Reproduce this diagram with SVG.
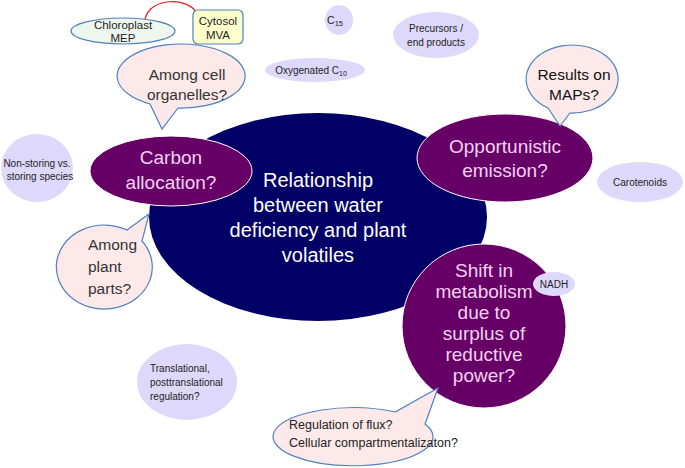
<svg xmlns="http://www.w3.org/2000/svg" width="685" height="468" viewBox="0 0 685 468">
<style>
text{font-family:"Liberation Sans","Noto Sans",Arial,sans-serif}
.big{fill:#ffffff;font-size:20px;text-anchor:middle}
.pq{fill:#f6d2f2;font-size:19px;text-anchor:middle}
.bub{fill:#fde9e9;stroke:#4f81bd;stroke-width:1.2}
.bt{fill:#333333;font-size:15.5px}
.lav{fill:#ded9fa}
.st{fill:#222;font-size:10px;text-anchor:middle}
.purp{fill:#660066;stroke:#ffffff;stroke-width:1}
</style>
<rect width="685" height="468" fill="#ffffff"/>
<g id="connectors">
<path d="M145 19 C150 -3 188 -3 197 13" fill="none" stroke="#e02020" stroke-width="1.2"/>
</g>
<g id="main">
<ellipse cx="318" cy="217" rx="169" ry="104" fill="#000066"/>
<text class="big" x="318" y="187">Relationship</text>
<text class="big" x="318" y="212">between water</text>
<text class="big" x="318" y="237">deficiency and plant</text>
<text class="big" x="318" y="262">volatiles</text>
</g>
<g id="carbon">
<ellipse class="purp" cx="171" cy="171" rx="81" ry="35"/>
<text class="pq" x="171" y="164">Carbon</text>
<text class="pq" x="171" y="189">allocation?</text>
</g>
<g id="opportunistic">
<ellipse class="purp" cx="505" cy="158" rx="88" ry="44"/>
<text class="pq" x="505" y="153">Opportunistic</text>
<text class="pq" x="505" y="177">emission?</text>
</g>
<g id="shift">
<circle class="purp" cx="484" cy="326" r="82"/>
<text class="pq" x="484" y="277">Shift in</text>
<text class="pq" x="484" y="298">metabolism</text>
<text class="pq" x="484" y="319">due to</text>
<text class="pq" x="484" y="340">surplus of</text>
<text class="pq" x="484" y="361">reductive</text>
<text class="pq" x="484" y="382">power?</text>
</g>
<g id="chloroplast">
<ellipse cx="123" cy="31" rx="52" ry="13" fill="#eef7ee" stroke="#4f81bd" stroke-width="1.2"/>
<text x="123" y="29" font-size="11.5" text-anchor="middle" fill="#222">Chloroplast</text>
<text x="123" y="42" font-size="11.5" text-anchor="middle" fill="#222">MEP</text>
</g>
<g id="cytosol">
<rect x="193" y="10" width="50" height="34" rx="5" fill="#ffffcc" stroke="#4f81bd" stroke-width="1.2"/>
<text x="218" y="25" font-size="11.5" text-anchor="middle" fill="#222">Cytosol</text>
<text x="218" y="39" font-size="11.5" text-anchor="middle" fill="#222">MVA</text>
</g>
<g id="organelles">
<path class="bub" d="M150 104 A64 32 0 1 1 178 108 L162 129 Z"/>
<text class="bt" x="187" y="80" text-anchor="middle">Among cell</text>
<text class="bt" x="187" y="100" text-anchor="middle">organelles?</text>
</g>
<g id="c15">
<ellipse class="lav" cx="339" cy="20" rx="14" ry="15"/>
<text x="335" y="24" font-size="10.5" text-anchor="middle" fill="#222">C<tspan font-size="7.5" dy="2">15</tspan></text>
</g>
<g id="precursors">
<ellipse class="lav" cx="436" cy="35" rx="43" ry="23"/>
<text class="st" x="436" y="32" font-size="10.5">Precursors /</text>
<text class="st" x="436" y="46">end products</text>
</g>
<g id="oxygenated">
<ellipse class="lav" cx="315" cy="70" rx="50" ry="12"/>
<text x="311" y="74" font-size="10" text-anchor="middle" fill="#222">Oxygenated C<tspan font-size="7" dy="2">10</tspan></text>
</g>
<g id="maps">
<path class="bub" d="M548 108 A46 34 0 1 1 570 113 L560 126 Z"/>
<text x="574" y="80" font-size="15.5" text-anchor="middle" fill="#111">Results on</text>
<text x="574" y="100" font-size="15.5" text-anchor="middle" fill="#111">MAPs?</text>
</g>
<g id="carotenoids">
<ellipse class="lav" cx="640" cy="182" rx="43" ry="20"/>
<text class="st" x="640" y="186" font-size="9">Carotenoids</text>
</g>
<g id="nonstoring">
<ellipse class="lav" cx="37" cy="168" rx="36" ry="34"/>
<text class="st" x="37" y="167" font-size="9.5">Non-storing vs.</text>
<text class="st" x="40" y="180" font-size="9.5">storing species</text>
</g>
<g id="plantparts">
<path class="bub" d="M127 230 A48 42 0 1 0 142 241 L149 214 Z"/>
<text class="bt" x="88" y="250">Among</text>
<text class="bt" x="88" y="272">plant</text>
<text class="bt" x="88" y="294">parts?</text>
</g>
<g id="nadh">
<ellipse class="lav" cx="554" cy="284" rx="21" ry="12"/>
<text class="st" x="554" y="288" font-size="8.5">NADH</text>
</g>
<g id="translational">
<ellipse class="lav" cx="187" cy="382" rx="50" ry="38"/>
<text x="150" y="372" font-size="10" fill="#222">Translational,</text>
<text x="150" y="386" font-size="10" fill="#222">posttranslational</text>
<text x="150" y="400" font-size="10" fill="#222">regulation?</text>
</g>
<g id="regulation">
<path class="bub" d="M395 412 A80 29 0 1 0 425 424 L438 388 Z"/>
<text x="289" y="429" font-size="12.5" fill="#222">Regulation of flux?</text>
<text x="289" y="447" font-size="12.5" fill="#222">Cellular compartmentalizaton?</text>
</g>
</svg>
